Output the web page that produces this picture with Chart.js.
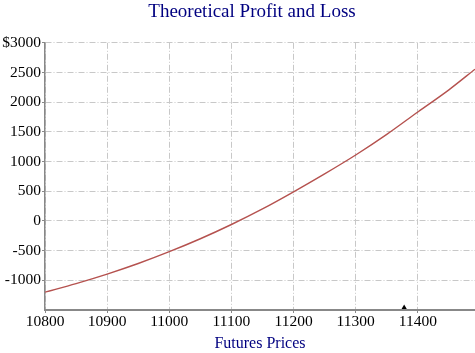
<!DOCTYPE html>
<html>
<head>
<meta charset="utf-8">
<script src="https://cdn.jsdelivr.net/npm/chart.js@4"></script>
<style>
  html, body { margin: 0; padding: 0; background: #fff; }
  canvas { display: block; }
</style>
</head>
<body>
<canvas id="pnl" width="475" height="353"></canvas>
<script>
// futures price vs theoretical P&L
const prices = [10800, 10850, 10900, 10950, 11000, 11050, 11100, 11150, 11200, 11250, 11300, 11350, 11400, 11450, 11492];
const profit = [-1200, -1055, -895, -717, -518, -300, -60, 202, 490, 792, 1110, 1457, 1835, 2208, 2555];
const xTicks = [10800, 10900, 11000, 11100, 11200, 11300, 11400];
const yTicks = [-1500, -1000, -500, 0, 500, 1000, 1500, 2000, 2500, 3000];
const currentPrice = [11378];
const currentLevel = [-1460];

const navy = '#000080';
const gridGray = '#c8c8c8';
const axisGray = '#888888';

Chart.defaults.font.family = 'Liberation Serif';
Chart.defaults.color = '#000';

// the original title sits a little left of the plot centre
const titleNudge = {
    id: 'titleNudge',
    afterLayout(chart) {
        if (chart.titleBlock) chart.titleBlock.left -= 16;
    }
};

let ctx = document.getElementById('pnl').getContext('2d');
let chart = new Chart(ctx, {
    type: 'scatter',
    data: {
        datasets: [{
            type: 'line',
            label: 'P&L',
            data: prices.map((p, i) => ({x: p, y: profit[i]})),
            borderColor: '#b5524f',
            borderWidth: 1.4,
            pointRadius: 0,
            cubicInterpolationMode: 'monotone',
            fill: false
        }, {
            label: 'Current',
            data: currentPrice.map((p, i) => ({x: p, y: currentLevel[i]})),
            pointStyle: 'triangle',
            pointRadius: 3,
            backgroundColor: '#000',
            borderColor: '#000',
            borderWidth: 0,
            clip: false
        }]
    },
    options: {
        responsive: false,
        animation: false,
        events: [],
        layout: { padding: 0, autoPadding: false },
        plugins: {
            legend: { display: false },
            tooltip: { enabled: false },
            title: {
                display: true,
                text: 'Theoretical Profit and Loss',
                color: navy,
                fullSize: false,
                font: { size: 19, weight: 'normal' },
                padding: { top: 1, bottom: 19 }
            }
        },
        scales: {
            x: {
                type: 'linear',
                min: 10800,
                max: 11492,
                afterFit: (s) => { s.height = 43; },
                afterBuildTicks: (s) => { s.ticks = xTicks.map(v => ({value: v})); },
                ticks: {
                    autoSkip: false,
                    padding: 0,
                    font: { size: 15.5 },
                    maxRotation: 0,
                    callback: (v) => String(v)
                },
                grid: {
                    color: gridGray,
                    lineWidth: 1,
                    tickLength: 3,
                    tickColor: axisGray
                },
                border: { color: axisGray, width: 2, dash: [6, 2, 1, 2] },
                title: {
                    display: true,
                    text: 'Futures Prices',
                    color: navy,
                    font: { size: 16 },
                    padding: { top: 0, bottom: 0 }
                }
            },
            y: {
                min: -1500,
                max: 3000,
                afterFit: (s) => { s.width = 45; },
                afterBuildTicks: (s) => { s.ticks = yTicks.map(v => ({value: v})); },
                ticks: {
                    autoSkip: false,
                    padding: 1,
                    font: { size: 15.5 },
                    callback: (v) => v === -1500 ? null : (v === 3000 ? '$' + v : String(v))
                },
                grid: {
                    color: gridGray,
                    lineWidth: 1,
                    tickLength: 3,
                    tickColor: axisGray
                },
                border: { color: axisGray, width: 1.5, dash: [6, 2, 1, 2] }
            }
        }
    },
    plugins: [titleNudge]
});
</script>
</body>
</html>
